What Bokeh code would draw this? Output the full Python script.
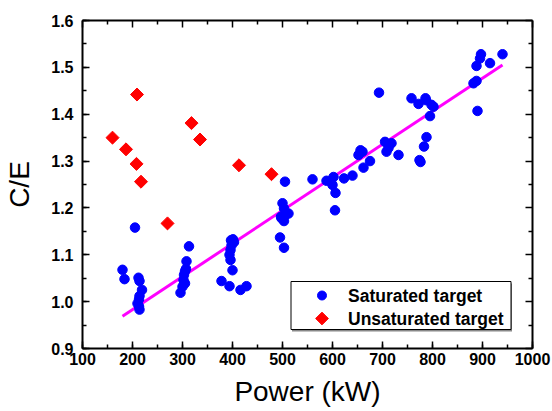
import numpy as np
from bokeh.plotting import figure
from bokeh.models import Range1d, LinearAxis, SingleIntervalTicker, FixedTicker, PrintfTickFormatter
from bokeh.core.properties import value
from bokeh.embed import file_html
from bokeh.resources import INLINE

# Saturated target (blue circles)
sat_power = [180, 184, 205, 212, 214, 219, 214, 213, 210, 213, 214,
             296, 300, 302, 305, 303, 305, 307, 308, 313,
             397, 401, 403, 398, 396, 394, 396, 400, 378, 394, 416, 428,
             505, 500, 503, 512, 498, 503, 497, 506, 495, 503,
             560, 588, 602, 600, 606, 605, 623, 640, 652, 656, 660, 662, 675,
             693, 705, 708, 718, 732, 712,
             758, 772, 786, 802, 795, 788, 783, 774, 798, 787, 776,
             897, 895, 915, 888, 940, 882, 888, 890]
sat_ce = [1.068, 1.048, 1.158, 1.051, 1.044, 1.025, 1.012, 1.005, 0.996, 0.990, 0.983,
          1.019, 1.032, 1.046, 1.039, 1.057, 1.065, 1.070, 1.086, 1.118,
          1.131, 1.133, 1.127, 1.120, 1.110, 1.100, 1.089, 1.067, 1.044, 1.033, 1.025, 1.033,
          1.256, 1.210, 1.199, 1.188, 1.178, 1.172, 1.181, 1.185, 1.137, 1.115,
          1.261, 1.258, 1.266, 1.249, 1.232, 1.195, 1.263, 1.269, 1.313, 1.323, 1.320, 1.286, 1.300,
          1.446, 1.341, 1.320, 1.338, 1.313, 1.328,
          1.434, 1.422, 1.434, 1.416, 1.396, 1.351, 1.331, 1.302, 1.420, 1.430, 1.298,
          1.528, 1.519, 1.509, 1.503, 1.528, 1.466, 1.471, 1.407]

# Unsaturated target (red diamonds)
unsat_power = [160, 187, 209, 208, 217, 270, 318, 335, 413, 478]
unsat_ce = [1.350, 1.325, 1.442, 1.294, 1.256, 1.167, 1.381, 1.346, 1.291, 1.272]

# Linear fit line (end points)
fit_power = [180, 940]
fit_ce = [0.969, 1.505]

legend_labels = ["Saturated target", "Unsaturated target"]

x_major = [int(v) for v in np.arange(100, 1001, 100)]
x_minor = [int(v) for v in np.arange(150, 1000, 100)]
y_major = [round(v, 2) for v in np.arange(0.9, 1.601, 0.1)]
y_minor = [round(v, 2) for v in np.arange(0.95, 1.6, 0.1)]

FONT = "Liberation Sans"
FW, FH = 450, 328

p = figure(frame_width=FW, frame_height=FH, output_backend="svg", toolbar_location=None,
           x_range=Range1d(100, 1000), y_range=Range1d(0.9, 1.6),
           min_border_left=82, min_border_right=20, min_border_top=20, min_border_bottom=63,
           x_axis_label="Power (kW)", y_axis_label="C/E")
p.extra_x_ranges = {"px": Range1d(0, FW)}
p.extra_y_ranges = {"py": Range1d(0, FH)}
p.outline_line_color = None
p.xgrid.visible = False
p.ygrid.visible = False
p.background_fill_color = "white"
p.border_fill_color = "white"

p.line(fit_power, fit_ce, line_color="#FF00FF", line_width=3)
p.scatter(sat_power, sat_ce, marker="circle", size=9.5, fill_color="#0000FF", line_color="#0000FF")
p.scatter(unsat_power, unsat_ce, marker="square", angle=np.pi / 4, size=9.2,
          fill_color="#FF0000", line_color="#FF0000")


def base_style(ax):
    ax.axis_line_width = 2
    ax.axis_line_color = "black"
    ax.major_tick_in = 7
    ax.major_tick_out = 0
    ax.minor_tick_in = 4
    ax.minor_tick_out = 0
    ax.major_tick_line_width = 1.5
    ax.minor_tick_line_width = 1.5
    ax.major_tick_line_color = "black"
    ax.minor_tick_line_color = "black"
    ax.major_label_text_font = FONT
    ax.major_label_text_font_style = "bold"
    ax.major_label_text_font_size = "16px"
    ax.major_label_text_color = "black"
    ax.axis_label_text_font = FONT
    ax.axis_label_text_font_style = "normal"
    ax.axis_label_text_font_size = "28px"
    ax.axis_label_text_color = "black"


xa = p.xaxis[0]
ya = p.yaxis[0]
base_style(xa)
base_style(ya)
xa.ticker = SingleIntervalTicker(interval=100, num_minor_ticks=2)
xa.formatter = PrintfTickFormatter(format="%d")
ya.ticker = SingleIntervalTicker(interval=0.1, num_minor_ticks=2)
ya.formatter = PrintfTickFormatter(format="%.1f")
xa.major_label_standoff = 4
xa.axis_label_standoff = 8
ya.major_label_standoff = 9
ya.axis_label_standoff = 13

# Top and right frame axes: ticks only (no labels)
for side, major, minor in (("above", x_major, x_minor), ("right", y_major, y_minor)):
    a1 = LinearAxis(ticker=FixedTicker(ticks=[], minor_ticks=major))
    base_style(a1)
    a1.minor_tick_in = 7
    a1.major_label_standoff = 0
    p.add_layout(a1, side)
    a2 = LinearAxis(ticker=FixedTicker(ticks=[], minor_ticks=minor))
    base_style(a2)
    a2.axis_line_color = None
    a2.minor_tick_in = 4
    a2.major_label_standoff = 0
    p.add_layout(a2, side)

# Legend box (pixel coordinates inside the plot frame)
box_l, box_r, box_b, box_t = 208.5, 428.5, 19, 67
p.quad(left=[box_l + 1], right=[box_r + 1], bottom=[box_b - 2], top=[box_t - 2],
       fill_color="#888888", line_color=None, x_range_name="px", y_range_name="py")
p.quad(left=[box_l], right=[box_r], bottom=[box_b], top=[box_t],
       fill_color="white", line_color="black", line_width=1, x_range_name="px", y_range_name="py")
row_y = [53, 30]
p.scatter([239.5], [row_y[0]], marker="circle", size=9, fill_color="#0000FF", line_color="#0000FF",
          x_range_name="px", y_range_name="py")
p.scatter([239.5], [row_y[1]], marker="square", angle=np.pi / 4, size=9,
          fill_color="#FF0000", line_color="#FF0000", x_range_name="px", y_range_name="py")
p.text(x=[265.5, 265.5], y=row_y, text=legend_labels, text_font=value(FONT),
       text_font_style="bold", text_font_size="17.5px", text_baseline="middle",
       text_color="black", x_range_name="px", y_range_name="py")

open("out.html", "w").write(file_html(p, INLINE))
